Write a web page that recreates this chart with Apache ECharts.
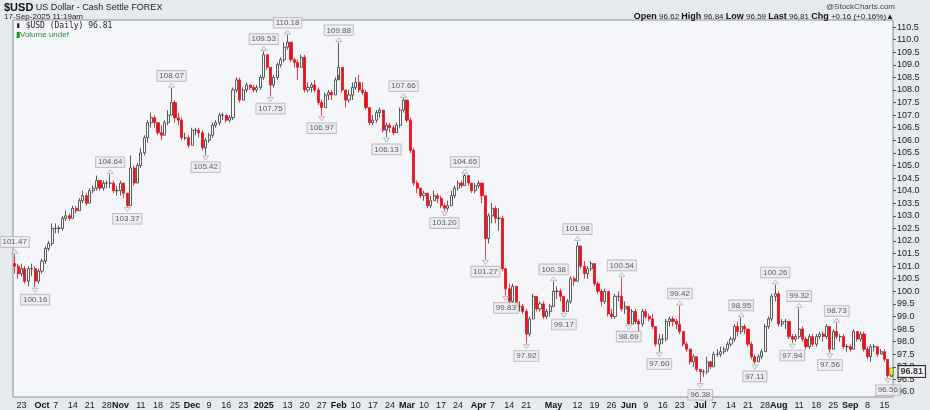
<!DOCTYPE html>
<html><head><meta charset="utf-8">
<script src="https://cdn.jsdelivr.net/npm/echarts@6/dist/echarts.min.js"></script>
<style>html,body{margin:0;padding:0;background:#e6e9ee}#c{width:930px;height:410px}</style>
</head><body><div id="c"></div>
<script>
const closes=[101.0,100.7,
100.9,100.4,100.9,100.9,100.4, 100.8,101.2,101.7,101.9,102.5, 102.5,102.5,102.9,103.0,102.9, 103.3,103.2,103.6,103.8,103.5,
104.0,104.1,104.4,104.1,104.3, 104.3,104.3,104.0,104.0,104.3, 103.9,103.4,104.9,104.3,105.0, 105.5,106.1,106.7,106.9,106.7,
106.3,106.2,106.7,107.0,107.5, 106.9,106.8,106.1,106.1,105.8, 106.4,106.4,106.3,105.7,106.0, 106.2,106.6,106.7,107.0,107.0,
106.8,106.9,108.0,108.4,107.6, 108.0,108.2,108.1,108.0, 108.1,108.5,109.4,108.9,
108.2,108.5,109.0,109.2,109.7, 109.9,109.2,109.1,108.9,109.3, 108.0,108.1,108.2,108.0,107.5, 107.3,107.8,107.9,107.8,108.4,
108.9,108.0,107.6,107.8,108.1, 108.3,108.0,107.9,107.3,106.7, 106.8,107.1,107.2,106.4,106.6, 106.5,106.3,106.6,107.2,107.6,
106.8,105.6,104.3,104.1,103.8, 103.9,103.4,103.6,103.8,103.7, 103.4,103.3,103.4,103.8,104.1, 104.3,104.2,104.6,104.3,104.0,
104.2,104.3,103.8,102.1,103.0, 103.3,102.9,102.9,100.9,100.1, 99.6,100.2,99.4,99.4,99.2, 98.3,98.9,99.8,99.3,99.5,
99.0,99.2,99.4,100.0,100.0, 99.8,99.2,99.6,100.5,100.4, 101.8,101.0,100.7,100.9,101.1, 100.3,100.0,99.6,100.0,99.1,
99.0,99.8,99.8,99.3,99.4, 98.7,99.2,98.8,98.7,99.2, 99.0,98.9,98.6,97.9,98.1, 98.1,98.8,98.9,98.8,98.7,
98.4,97.9,97.7,97.2,97.4, 96.9,96.8,96.8,97.2,97.0, 97.5,97.5,97.6,97.7,97.9, 98.1,98.6,98.4,98.6,98.5,
97.9,97.4,97.2,97.4,97.6, 98.6,98.9,99.8,99.9,98.7, 98.8,98.8,98.2,98.1,98.2, 98.5,98.1,97.8,98.2,97.9,
98.2,98.3,98.2,98.6,97.7, 98.4,98.2,98.2,97.8,97.8, 97.7,98.4,98.1,98.3,97.7, 97.4,97.8,97.8,97.5,97.6,
97.3,96.65,96.81];
const highs=[101.47,101.1,
101.1,101.0,101.0,101.1,101.0, 100.9,101.3,101.8,102.0,102.7, 102.7,102.6,103.0,103.2,103.1, 103.4,103.4,103.7,104.0,103.9,
104.1,104.2,104.6,104.4,104.4, 104.4,104.64,104.4,104.2,104.4, 104.3,103.9,105.4,105.0,105.1, 105.7,106.2,106.8,107.1,107.0,
106.7,106.6,106.8,107.2,108.07, 107.6,107.1,106.9,106.3,106.2, 106.5,106.5,106.5,106.4,106.1, 106.3,106.7,106.8,107.1,107.1,
107.0,107.0,108.1,108.5,108.5, 108.1,108.3,108.2,108.2, 108.2,108.6,109.53,109.4,
108.9,108.6,109.1,109.3,109.9, 110.18,109.9,109.3,109.2,109.4, 109.4,108.3,108.3,108.4,108.1, 107.6,107.9,108.0,108.0,108.5,
109.88,108.9,108.0,108.0,108.3, 108.5,108.6,108.3,108.0,107.3, 107.0,107.2,107.3,107.2,106.7, 106.7,106.6,106.7,107.3,107.66,
107.6,106.9,105.7,104.4,104.1, 104.0,103.9,103.8,104.0,103.9, 103.8,103.5,103.6,104.0,104.2, 104.4,104.4,104.65,104.6,104.3,
104.3,104.4,104.3,103.8,103.1, 103.5,103.4,103.3,103.0,100.8, 100.3,100.3,100.2,99.6,99.5, 99.3,99.0,99.9,99.8,99.6,
99.6,99.3,99.5,100.38,100.2, 100.1,99.8,99.7,100.6,100.6, 101.98,101.8,101.2,101.0,101.2, 101.0,100.4,100.1,100.1,100.0,
99.3,99.9,100.0,100.54,99.6, 99.4,99.3,99.3,98.9,99.3, 99.3,99.1,99.1,98.6,98.3, 98.3,98.9,99.0,99.0,98.9,
99.42,98.4,98.0,97.7,97.5, 97.4,96.9,96.9,97.4,97.2, 97.6,97.7,97.8,97.8,98.0, 98.2,98.7,98.8,98.95,98.7,
98.5,98.0,97.5,97.5,97.7, 98.7,99.0,99.9,100.26,100.0, 98.9,98.9,98.8,98.3,98.3, 99.32,98.6,98.2,98.3,98.3,
98.3,98.4,98.4,98.7,98.6, 98.5,98.73,98.3,98.3,97.9, 97.9,98.5,98.4,98.4,98.4, 97.8,97.9,97.9,97.8,97.7,
97.7,97.3,96.84];
const lows=[100.7,100.5,
100.6,100.3,100.2,100.6,100.16, 100.3,100.7,101.1,101.6,101.8, 102.3,102.3,102.4,102.8,102.8, 102.9,103.1,103.2,103.5,103.4,
103.5,103.9,104.0,104.0,104.0, 104.1,104.1,103.9,103.8,103.8, 103.7,103.37,103.4,104.2,104.3, 104.9,105.4,105.9,106.5,106.5,
106.2,106.0,106.2,106.6,107.0, 106.7,106.6,106.0,106.0,105.7, 105.8,106.2,106.1,105.6,105.42, 105.9,106.1,106.5,106.6,106.8,
106.7,106.7,106.8,107.9,107.5, 107.6,107.9,108.0,107.9, 107.9,108.0,108.4,108.8,
107.75,108.1,108.4,108.9,109.1, 109.6,109.1,108.9,108.4,108.9, 107.9,107.9,107.9,107.9,107.4, 106.97,107.3,107.6,107.6,107.8,
108.6,107.9,107.3,107.5,107.6, 108.0,107.9,107.8,107.2,106.6, 106.6,106.7,106.9,106.3,106.13, 106.3,106.2,106.3,106.5,107.1,
106.7,105.5,104.2,103.9,103.7, 103.6,103.3,103.3,103.6,103.5, 103.3,103.20,103.2,103.4,103.7, 104.0,104.1,104.2,104.2,103.9,
103.9,104.1,103.5,101.27,101.9, 102.7,102.7,102.4,100.8,99.83, 99.4,99.5,99.3,99.2,99.1, 97.92,98.2,98.9,99.2,99.2,
98.9,98.9,99.0,99.4,99.7, 99.6,99.17,99.2,99.5,100.2, 100.4,100.9,100.5,100.5,100.8, 100.2,99.9,99.4,99.5,99.0,
98.9,98.9,99.6,99.2,99.1, 98.69,98.7,98.7,98.4,98.6, 98.9,98.8,98.5,97.8,97.60, 97.9,98.0,98.6,98.6,98.5,
98.3,97.8,97.6,97.1,97.0, 96.8,96.38,96.6,96.7,96.9, 97.0,97.4,97.4,97.5,97.6, 97.8,98.0,98.2,98.3,98.3,
97.8,97.3,97.11,97.2,97.3, 97.6,98.5,98.8,99.6,98.6, 98.6,98.5,98.1,97.94,98.0, 98.1,98.0,97.7,97.7,97.8,
97.8,98.1,98.0,98.1,97.56, 97.7,98.1,98.0,97.7,97.6, 97.6,97.7,98.0,98.0,97.6, 97.3,97.2,97.6,97.4,97.5,
97.2,96.56,96.59];
const firstOpen=101.1, lastOpen=96.62;
const pivotDates=['2024-09-19','2024-09-27','2024-10-29','2024-11-05','2024-11-22','2024-12-06','2025-01-02','2025-01-06','2025-01-13','2025-01-27','2025-02-03','2025-02-21','2025-02-28','2025-03-18','2025-03-26','2025-04-03','2025-04-11','2025-04-21','2025-05-01','2025-05-06','2025-05-12','2025-05-29','2025-06-02','2025-06-13','2025-06-23','2025-07-01','2025-07-17','2025-07-23','2025-07-31','2025-08-07','2025-08-11','2025-08-22','2025-08-26','2025-09-16'];
const pivotValues=[101.47,100.16,104.64,103.37,108.07,105.42,109.53,107.75,110.18,106.97,109.88,106.13,107.66,103.20,104.65,101.27,99.83,97.92,100.38,99.17,101.98,100.54,98.69,97.60,99.42,96.38,98.95,97.11,100.26,97.94,99.32,97.56,98.73,96.56];
const pivotTypes=['H','L','H','L','H','L','H','L','H','L','H','L','H','L','H','L','L','L','H','L','H','H','L','L','H','L','H','L','H','L','H','L','H','L'];
const yTicks=[96,96.5,97,97.5,98,98.5,99,99.5,100,100.5,101,101.5,102,102.5,103,103.5,104,104.5,105,105.5,106,106.5,107,107.5,108,108.5,109,109.5,110,110.5];
const holidays=['2024-12-25','2025-01-01'];
const monthNames=['Jan','Feb','Mar','Apr','May','Jun','Jul','Aug','Sep','Oct','Nov','Dec'];

const dates=[];
function fmt(d){return d.getUTCFullYear()+'-'+String(d.getUTCMonth()+1).padStart(2,'0')+'-'+String(d.getUTCDate()).padStart(2,'0');}
for(let d=new Date(Date.UTC(2024,8,19));d<=new Date(Date.UTC(2025,8,17));d.setUTCDate(d.getUTCDate()+1)){
  const w=d.getUTCDay(); const s=fmt(d);
  if(w===0||w===6||holidays.includes(s))continue; dates.push(s);
}
const ohlc=dates.map((d,i)=>{const o=i===0?firstOpen:(i===dates.length-1?lastOpen:closes[i-1]);return [o,closes[i],lows[i],highs[i]];});
const labels=dates.map(()=>null);
const monthStarts=[];
dates.forEach((s,i)=>{if(i>0&&s.slice(5,7)!==dates[i-1].slice(5,7))monthStarts.push(i);});
monthStarts.forEach(i=>{const m=+dates[i].slice(5,7);labels[i]=m===1?'{b|'+dates[i].slice(0,4)+'}':'{b|'+monthNames[m-1]+'}';});
dates.forEach((s,i)=>{
  const w=new Date(s+'T00:00:00Z').getUTCDay();
  if(w!==1||labels[i])return;
  const near=monthStarts.some(m=>(m-i>0&&m-i<=3)||(i-m>0&&i-m<=2));
  if(!near)labels[i]=String(+s.slice(8,10));
});

const pivotData=pivotDates.map((d,i)=>({value:[d,pivotValues[i]],symbolRotate:pivotTypes[i]==='H'?0:180,
  label:{position:pivotTypes[i]==='H'?'top':'bottom'},symbolOffset:[0,pivotTypes[i]==='H'?-3:3]}));
const lastDate=dates[dates.length-1], lastClose=closes[closes.length-1];

const chart=echarts.init(document.getElementById('c'));
chart.setOption({
  animation:false,
  backgroundColor:'#e6e9ee',
  grid:{left:13,right:37,top:20,bottom:13,show:true,backgroundColor:'#f5f6fa',borderColor:'#8a8f99',borderWidth:1},
  xAxis:{type:'category',data:dates,boundaryGap:true,
    axisLine:{show:false},axisTick:{show:false},splitLine:{show:false},
    axisLabel:{interval:(i)=>labels[i]!==null,formatter:(v,i)=>labels[i]||'',fontSize:9,color:'#222',margin:4,fontFamily:'Liberation Sans',
      rich:{b:{fontWeight:'bold',fontSize:9,color:'#111'}}}},
  yAxis:{type:'value',position:'right',min:95.8,max:110.78,
    axisLine:{show:false},splitLine:{show:false},
    axisTick:{show:true,customValues:yTicks,length:3,lineStyle:{color:'#555'}},
    axisLabel:{customValues:yTicks,formatter:v=>v.toFixed(1),fontSize:9,color:'#222',margin:4,fontFamily:'Liberation Sans'}},
  series:[
    {type:'candlestick',data:ohlc,barWidth:2.6,
      itemStyle:{color:'#ffffff',color0:'#e8101a',borderColor:'#333',borderColor0:'#e8101a',borderWidth:0.8}},
    {type:'scatter',data:pivotData,symbol:'triangle',symbolSize:[6,4],z:3,
      itemStyle:{color:'#f5f6fa',borderColor:'#999',borderWidth:0.8},
      label:{show:true,formatter:p=>p.value[1].toFixed(2),fontSize:8,color:'#333',backgroundColor:'#eceef2',
        borderColor:'#aaa',borderWidth:0.8,padding:[1,2],distance:2,fontFamily:'Liberation Sans'}},
    {type:'scatter',data:[[lastDate,lastClose]],symbol:'rect',symbolSize:[4,7],z:4,
      itemStyle:{color:'#ffff00',borderColor:'#333',borderWidth:0.6},
      label:{show:true,position:'right',distance:5,formatter:lastClose.toFixed(2),backgroundColor:'#fff',borderColor:'#000',borderWidth:1,
        padding:[1,2],fontSize:9,fontWeight:'bold',color:'#000',fontFamily:'Liberation Sans'}}
  ],
  graphic:[
    {type:'text',left:4,top:2,style:{text:'{a|$USD} US Dollar - Cash Settle FOREX',fontSize:9,fill:'#222',fontFamily:'Liberation Sans',
      rich:{a:{fontWeight:'bold',fontSize:11,fill:'#111'}}}},
    {type:'text',left:4,top:13,style:{text:'17-Sep-2025 11:19am',fontSize:8,fill:'#222',fontFamily:'Liberation Sans'}},
    {type:'text',right:35,top:3,style:{text:'@StockCharts.com',fontSize:8,fill:'#444',fontFamily:'Liberation Sans'}},
    {type:'text',right:36,top:12,style:{text:'{b|Open} 96.62 {b|High} 96.84 {b|Low} 96.59 {b|Last} 96.81 {b|Chg} +0.16 (+0.16%)▲',fontSize:8,fill:'#222',fontFamily:'Liberation Sans',
      rich:{b:{fontWeight:'bold',fontSize:9,fill:'#111'}}}},
    {type:'text',left:16,top:22,style:{text:'▮ $USD (Daily) 96.81',fontSize:8,fill:'#222',fontFamily:'DejaVu Sans Mono'}},
    {type:'text',left:16,top:31,style:{text:'▮Volume undef',fontSize:8,fill:'#2a8a2a',fontFamily:'Liberation Sans'}}
  ]
});
</script></body></html>
